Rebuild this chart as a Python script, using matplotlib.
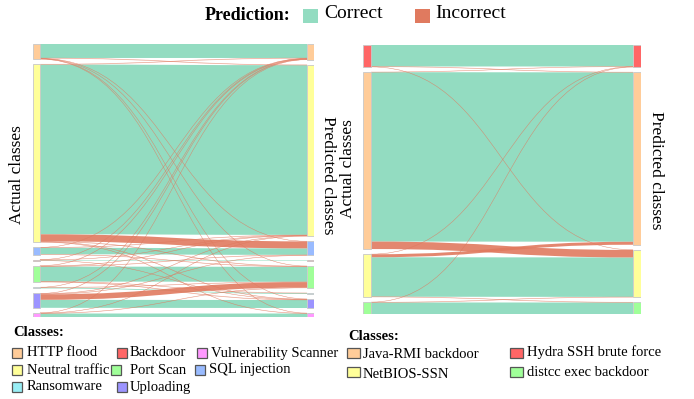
import numpy as np
import matplotlib
matplotlib.use("Agg")
import matplotlib.pyplot as plt
from matplotlib.path import Path
from matplotlib.patches import PathPatch, Rectangle

plt.rcParams['font.family'] = ['Liberation Serif', 'DejaVu Serif']

FIG_W, FIG_H = 694, 399
CORRECT = '#93DCC1'
INCORRECT = '#E07A5F'
NODE_EDGE = '#c8c8c8'

# ---- Network-attack classifier: actual -> predicted flows ----
net_classes = ["HTTP flood", "Neutral traffic", "SQL injection", "Backdoor",
               "Port Scan", "Ransomware", "Uploading", "Vulnerability Scanner"]
net_colors = ['#FFCC99', '#FFFF99', '#99BBFF', '#FF6666',
              '#A0FF99', '#99EEF5', '#9C94FF', '#FF99FF']
net_src = [0, 1, 2, 3, 4, 5, 6, 7,
           0, 0, 0, 0, 0,
           1, 1, 1, 1, 1,
           2, 2, 2,
           3, 3, 3,
           4, 4, 4, 4, 4,
           5, 5,
           6, 6, 6, 6,
           7, 7, 7]
net_dst = [0, 1, 2, 3, 4, 5, 6, 7,
           1, 2, 4, 6, 7,
           0, 2, 4, 6, 7,
           0, 1, 4,
           0, 1, 6,
           0, 1, 2, 5, 6,
           0, 4,
           0, 1, 2, 4,
           0, 1, 4]
net_val = [14, 170, 6.5, 0.5, 15, 0.8, 8, 3.5,
           0.4, 0.2, 0.2, 0.2, 0.2,
           0.4, 7, 0.4, 0.3, 0.3,
           0.2, 0.3, 0.3,
           0.2, 0.2, 0.2,
           0.3, 0.3, 0.3, 0.2, 0.4,
           0.2, 0.3,
           0.3, 0.3, 0.3, 5.5,
           0.2, 0.2, 0.3]

# ---- Metasploitable classifier: actual -> predicted flows ----
msf_classes = ["Hydra SSH brute force", "Java-RMI backdoor", "NetBIOS-SSN",
               "distcc exec backdoor"]
msf_colors = ['#FF6666', '#FFCC99', '#FFFF99', '#A0FF99']
msf_src = [0, 1, 2, 3, 0, 0, 1, 1, 2, 2, 2, 3, 3]
msf_dst = [0, 1, 2, 3, 1, 2, 0, 2, 0, 1, 3, 0, 2]
msf_val = [21.5, 169.5, 39.5, 11.5, 0.3, 0.2, 0.2, 7.5, 0.2, 3, 0.3, 0.2, 0.3]


def px_axes(fig, x0, y0, x1, y1):
    return fig.add_axes([x0 / FIG_W, 1 - y1 / FIG_H,
                         (x1 - x0) / FIG_W, (y1 - y0) / FIG_H])


def draw_sankey(ax, n, src, dst, val, colors, gap_frac, node_w):
    src = np.asarray(src)
    dst = np.asarray(dst)
    val = np.asarray(val, dtype=float)
    out_tot = np.array([val[src == i].sum() for i in range(n)])
    in_tot = np.array([val[dst == i].sum() for i in range(n)])
    total = val.sum()
    h_tot = total / (1 - gap_frac * (n - 1))
    pad = gap_frac * h_tot
    left_top = np.concatenate([[0], np.cumsum(out_tot + pad)[:-1]])
    right_top = np.concatenate([[0], np.cumsum(in_tot + pad)[:-1]])

    y0 = np.zeros(len(val))
    y1 = np.zeros(len(val))
    for i in range(n):
        idx = np.where(src == i)[0]
        idx = idx[np.argsort(dst[idx], kind='stable')]
        off = left_top[i]
        for k in idx:
            y0[k] = off
            off += val[k]
        idx = np.where(dst == i)[0]
        idx = idx[np.argsort(src[idx], kind='stable')]
        off = right_top[i]
        for k in idx:
            y1[k] = off
            off += val[k]

    xa, xb = node_w, 1 - node_w
    xm = 0.5 * (xa + xb)
    codes = [Path.MOVETO, Path.CURVE4, Path.CURVE4, Path.CURVE4,
             Path.LINETO, Path.CURVE4, Path.CURVE4, Path.CURVE4,
             Path.CLOSEPOLY]
    order = [k for k in range(len(val)) if src[k] == dst[k]] + \
            [k for k in range(len(val)) if src[k] != dst[k]]
    for k in order:
        a, b, v = y0[k], y1[k], val[k]
        verts = [(xa, a), (xm, a), (xm, b), (xb, b), (xb, b + v),
                 (xm, b + v), (xm, a + v), (xa, a + v), (xa, a)]
        if src[k] == dst[k]:
            patch = PathPatch(Path(verts, codes), facecolor=CORRECT,
                              edgecolor='none', zorder=1)
        elif v >= 1:
            patch = PathPatch(Path(verts, codes), facecolor=INCORRECT,
                              edgecolor='none', alpha=0.9, zorder=2)
        else:
            patch = PathPatch(Path(verts, codes), facecolor=INCORRECT,
                              edgecolor=INCORRECT, lw=0.3, alpha=0.45,
                              zorder=2)
        ax.add_patch(patch)

    for i in range(n):
        ax.add_patch(Rectangle((0, left_top[i]), node_w, out_tot[i],
                               facecolor=colors[i], edgecolor=NODE_EDGE,
                               lw=0.6, zorder=3))
        ax.add_patch(Rectangle((1 - node_w, right_top[i]), node_w, in_tot[i],
                               facecolor=colors[i], edgecolor=NODE_EDGE,
                               lw=0.6, zorder=3))
    ax.set_xlim(0, 1)
    ax.set_ylim(h_tot, 0)
    ax.axis('off')


fig = plt.figure(figsize=(FIG_W / 100, FIG_H / 100), dpi=100)

ax_l = px_axes(fig, 33, 44, 314, 317)
draw_sankey(ax_l, len(net_classes), net_src, net_dst, net_val, net_colors,
            gap_frac=5 / 273, node_w=7 / 281)

ax_r = px_axes(fig, 363, 45, 641, 314)
draw_sankey(ax_r, len(msf_classes), msf_src, msf_dst, msf_val, msf_colors,
            gap_frac=5 / 269, node_w=8 / 278)


def ftext(x, y, s, **kw):
    fig.text(x / FIG_W, 1 - y / FIG_H, s, **kw)


def swatch(x, y, w, h, color, lw=0.9, ec='#555555'):
    fig.add_artist(Rectangle((x / FIG_W, 1 - (y + h) / FIG_H),
                             w / FIG_W, h / FIG_H, facecolor=color,
                             edgecolor=ec, lw=lw,
                             transform=fig.transFigure))


# axis titles
ftext(17, 175, "Actual classes", rotation=90, ha='center', va='center', fontsize=12.5)
ftext(328, 175, "Predicted classes", rotation=270, ha='center', va='center', fontsize=12.5)
ftext(348, 169, "Actual classes", rotation=90, ha='center', va='center', fontsize=12.5)
ftext(656, 170, "Predicted classes", rotation=270, ha='center', va='center', fontsize=12.5)

# prediction legend
ftext(205, 16, "Prediction:", ha='left', va='center', fontsize=13, fontweight='bold')
swatch(303, 9, 15, 14, CORRECT, lw=0)
ftext(324, 14, "Correct", ha='left', va='center', fontsize=14)
swatch(415, 9, 15, 14, INCORRECT, lw=0)
ftext(435, 14, "Incorrect", ha='left', va='center', fontsize=14)

# class legend, left chart
ftext(13, 333, "Classes:", ha='left', va='center', fontsize=10.5, fontweight='bold')
net_leg_pos = [(12, 348), (12, 365), (12, 382),
               (117, 348), (111, 365), (117, 382),
               (197, 348), (195, 365)]
net_leg_text_x = [27, 27, 27, 130, 130, 130, 211, 209]
net_leg_order = [0, 1, 5, 3, 4, 6, 7, 2]
for (sx, sy), tx, ci in zip(net_leg_pos, net_leg_text_x, net_leg_order):
    swatch(sx, sy, 10, 10, net_colors[ci])
    ftext(tx, sy + 5, net_classes[ci], ha='left', va='center', fontsize=10.5)

# class legend, right chart
ftext(348, 337, "Classes:", ha='left', va='center', fontsize=10.5, fontweight='bold')
msf_leg = [(347, 348, 363, 355, 1), (347, 367, 363, 375, 2),
           (510, 348, 527, 352, 0), (510, 367, 527, 372, 3)]
for sx, sy, tx, ty, ci in msf_leg:
    swatch(sx, sy, 13, 10, msf_colors[ci])
    ftext(tx, ty, msf_classes[ci], ha='left', va='center', fontsize=10.5)

fig.savefig("out.png", dpi=100, facecolor='white')
